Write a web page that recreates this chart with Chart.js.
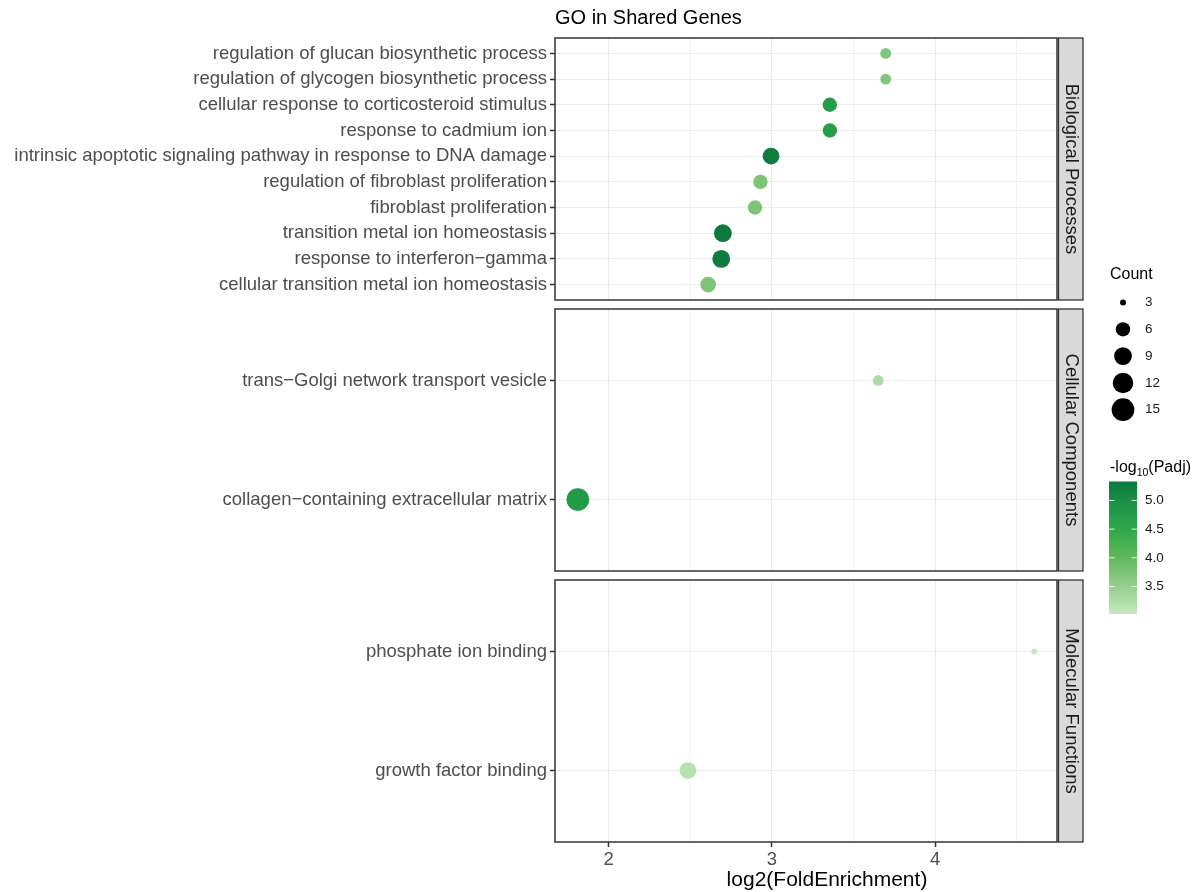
<!DOCTYPE html>
<html>
<head>
<meta charset="utf-8">
<title>GO in Shared Genes</title>
<script src="https://cdn.jsdelivr.net/npm/chart.js@4.4.1/dist/chart.umd.min.js"></script>
<style>
  html, body { margin: 0; padding: 0; background: #ffffff; }
  #wrap { position: relative; width: 1196px; height: 892px; }
  #wrap canvas { position: absolute; left: 0; top: 0; }
</style>
</head>
<body>
<div id="wrap">
  <canvas id="bp" width="1196" height="892"></canvas>
  <canvas id="cc" width="1196" height="892"></canvas>
  <canvas id="mf" width="1196" height="892"></canvas>
</div>
<script>
// ---- GO enrichment results, one group per facet ----
const bpTerms = [
  'regulation of glucan biosynthetic process',
  'regulation of glycogen biosynthetic process',
  'cellular response to corticosteroid stimulus',
  'response to cadmium ion',
  'intrinsic apoptotic signaling pathway in response to DNA damage',
  'regulation of fibroblast proliferation',
  'fibroblast proliferation',
  'transition metal ion homeostasis',
  'response to interferon\u2212gamma',
  'cellular transition metal ion homeostasis'
];
const bpFold  = [3.697, 3.697, 3.355, 3.355, 2.995, 2.930, 2.897, 2.700, 2.690, 2.610];
const bpCount = [4, 4, 6, 6, 8, 6, 6, 9, 9, 7];
const bpLogP  = [3.70, 3.70, 4.70, 4.70, 5.28, 3.74, 3.72, 5.33, 5.30, 3.72];

const ccTerms = [
  'trans\u2212Golgi network transport vesicle',
  'collagen\u2212containing extracellular matrix'
];
const ccFold  = [3.651, 1.812];
const ccCount = [4, 15];
const ccLogP  = [3.28, 4.78];

const mfTerms = ['phosphate ion binding', 'growth factor binding'];
const mfFold  = [4.606, 2.486];
const mfCount = [3, 8];
const mfLogP  = [3.02, 3.17];

const facetNames  = ['Biological Processes', 'Cellular Components', 'Molecular Functions'];
const xGridValues = [2, 2.5, 3, 3.5, 4, 4.5];
const sizeBreaks  = [3, 6, 9, 12, 15];
const colorBreaks = [3.5, 4.0, 4.5, 5.0];

// ---- shared scales ----
const FONT = "'Liberation Sans', Arial, Helvetica, sans-serif";
const W = 1196, H = 892;
const PANEL_LEFT = 555, PANEL_RIGHT = 1057;

const allFold  = bpFold.concat(ccFold, mfFold);
const allCount = bpCount.concat(ccCount, mfCount);
const allLogP  = bpLogP.concat(ccLogP, mfLogP);

const fMin = Math.min(...allFold), fMax = Math.max(...allFold);
const fPad = (fMax - fMin) * 0.05;
const xMin = fMin - fPad, xMax = fMax + fPad;

const cMin = Math.min(...allCount), cMax = Math.max(...allCount);
const pMin = Math.min(...allLogP),  pMax = Math.max(...allLogP);

// point diameter grows with the square root of the count (area scale)
function diameterOf(count) {
  const t = (count - cMin) / (cMax - cMin);
  return 6 + 16.7 * Math.sqrt(Math.max(0, t));
}

const gradStops = [
  [0.00, [199, 233, 192]],
  [0.22, [147, 205, 140]],
  [0.43, [ 96, 184,  91]],
  [0.64, [ 47, 168,  74]],
  [0.85, [ 26, 144,  71]],
  [1.00, [ 12, 122,  61]]
];
function colorAt(f) {
  f = Math.min(1, Math.max(0, f));
  for (let i = 1; i < gradStops.length; i++) {
    const [f1, c1] = gradStops[i];
    const [f0, c0] = gradStops[i - 1];
    if (f <= f1) {
      const u = (f - f0) / (f1 - f0);
      const c = c0.map((v, k) => Math.round(v + (c1[k] - v) * u));
      return `rgb(${c[0]},${c[1]},${c[2]})`;
    }
  }
  const c = gradStops[gradStops.length - 1][1];
  return `rgb(${c[0]},${c[1]},${c[2]})`;
}
function colorOf(v) { return colorAt((v - pMin) / (pMax - pMin)); }

// facet frame + grey strip on the right
function framePlugin(label) {
  return {
    id: 'frame',
    afterDraw(chart) {
      const { ctx, chartArea: a } = chart;
      ctx.save();
      const sx = a.right + 1.5, sw = 24.5;
      ctx.fillStyle = '#d9d9d9';
      ctx.fillRect(sx, a.top, sw, a.bottom - a.top);
      ctx.strokeStyle = '#333333';
      ctx.lineWidth = 1.3;
      ctx.strokeRect(sx, a.top, sw, a.bottom - a.top);
      ctx.translate(sx + sw / 2, (a.top + a.bottom) / 2);
      ctx.rotate(Math.PI / 2);
      ctx.fillStyle = '#1a1a1a';
      ctx.font = `18.5px ${FONT}`;
      ctx.textAlign = 'center';
      ctx.textBaseline = 'middle';
      ctx.fillText(label, 0, 0);
      ctx.restore();
      // panel border
      ctx.save();
      ctx.strokeStyle = '#333333';
      ctx.lineWidth = 1.5;
      ctx.strokeRect(a.left, a.top, a.right - a.left, a.bottom - a.top);
      ctx.restore();
    }
  };
}

const titlePlugin = {
  id: 'plotTitle',
  afterDraw(chart) {
    const ctx = chart.ctx;
    ctx.save();
    ctx.fillStyle = '#000000';
    ctx.font = `20px ${FONT}`;
    ctx.textAlign = 'left';
    ctx.textBaseline = 'middle';
    ctx.fillText('GO in Shared Genes', PANEL_LEFT, 18);
    ctx.restore();
  }
};

const xTitlePlugin = {
  id: 'xTitle',
  afterDraw(chart) {
    const ctx = chart.ctx;
    ctx.save();
    ctx.fillStyle = '#000000';
    ctx.font = `21px ${FONT}`;
    ctx.textAlign = 'center';
    ctx.textBaseline = 'middle';
    ctx.fillText('log2(FoldEnrichment)', 827, 880);
    ctx.restore();
  }
};

const legendPlugin = {
  id: 'guides',
  afterDraw(chart) {
    const ctx = chart.ctx;
    ctx.save();
    ctx.textBaseline = 'middle';
    ctx.textAlign = 'left';

    // size guide
    ctx.fillStyle = '#000000';
    ctx.font = `16px ${FONT}`;
    ctx.fillText('Count', 1110, 275);
    sizeBreaks.forEach((b, i) => {
      const y = 302.5 + i * 26.8;
      ctx.fillStyle = '#000000';
      ctx.beginPath();
      ctx.arc(1123, y, diameterOf(b) / 2, 0, Math.PI * 2);
      ctx.fill();
      ctx.fillStyle = '#1a1a1a';
      ctx.font = `13.5px ${FONT}`;
      ctx.fillText(String(b), 1145, y);
    });

    // colour guide title: -log10(Padj)
    let tx = 1110;
    const ty = 468;
    ctx.fillStyle = '#000000';
    ctx.font = `16px ${FONT}`;
    ctx.fillText('-log', tx, ty);
    tx += ctx.measureText('-log').width;
    ctx.font = `10.5px ${FONT}`;
    ctx.fillText('10', tx, ty + 5);
    tx += ctx.measureText('10').width;
    ctx.font = `16px ${FONT}`;
    ctx.fillText('(Padj)', tx, ty);

    // colour bar
    const bx = 1109, bw = 28, top = 481.5, bottom = 614;
    const g = ctx.createLinearGradient(0, bottom, 0, top);
    for (let k = 0; k <= 40; k++) g.addColorStop(k / 40, colorAt(k / 40));
    ctx.fillStyle = g;
    ctx.fillRect(bx, top, bw, bottom - top);
    colorBreaks.forEach(b => {
      const y = bottom - (b - pMin) / (pMax - pMin) * (bottom - top);
      ctx.strokeStyle = 'rgba(255,255,255,0.85)';
      ctx.lineWidth = 1;
      ctx.beginPath();
      ctx.moveTo(bx, y); ctx.lineTo(bx + 5.5, y);
      ctx.moveTo(bx + bw - 5.5, y); ctx.lineTo(bx + bw, y);
      ctx.stroke();
      ctx.fillStyle = '#1a1a1a';
      ctx.font = `13.5px ${FONT}`;
      ctx.fillText(b.toFixed(1), 1145, y);
    });
    ctx.restore();
  }
};

function makePanel(id, terms, fold, count, logp, top, bottom, label, showX, extra) {
  const n = terms.length;
  return new Chart(document.getElementById(id), {
    type: 'bubble',
    data: {
      datasets: [{
        data: fold.map((x, i) => ({ x: x, y: i, r: diameterOf(count[i]) / 2 })),
        backgroundColor: logp.map(colorOf),
        borderWidth: 0,
        hoverBorderWidth: 0,
        hoverRadius: 0
      }]
    },
    options: {
      responsive: false,
      maintainAspectRatio: false,
      animation: false,
      devicePixelRatio: 1,
      events: [],
      layout: {
        padding: { left: 0, right: W - PANEL_RIGHT, top: top, bottom: showX ? 0 : H - bottom }
      },
      plugins: { legend: { display: false }, tooltip: { enabled: false } },
      scales: {
        x: {
          type: 'linear',
          min: xMin,
          max: xMax,
          afterBuildTicks: s => { s.ticks = xGridValues.map(v => ({ value: v })); },
          afterFit: s => { s.height = showX ? H - bottom : 0; },
          border: { display: false },
          grid: {
            color: c => Number.isInteger(c.tick.value) ? '#ebebeb' : '#f2f2f2',
            lineWidth: 1,
            drawTicks: showX,
            tickLength: 5,
            tickWidth: 1.5,
            tickColor: c => Number.isInteger(c.tick.value) ? '#333333' : 'rgba(0,0,0,0)'
          },
          ticks: {
            display: showX,
            autoSkip: false,
            maxRotation: 0,
            padding: 2,
            color: '#4d4d4d',
            font: { family: FONT, size: 18.5 },
            callback: v => Number.isInteger(v) ? String(v) : ''
          }
        },
        y: {
          type: 'linear',
          reverse: true,
          min: -0.6,
          max: n - 0.4,
          afterBuildTicks: s => { s.ticks = terms.map((_, i) => ({ value: i })); },
          afterFit: s => { s.width = PANEL_LEFT; },
          border: { display: false },
          grid: {
            color: '#ebebeb',
            lineWidth: 1,
            tickLength: 5,
            tickWidth: 1.5,
            tickColor: '#333333'
          },
          ticks: {
            autoSkip: false,
            padding: 3,
            color: '#4d4d4d',
            font: { family: FONT, size: 18.5 },
            callback: v => terms[v]
          }
        }
      }
    },
    plugins: [framePlugin(label)].concat(extra)
  });
}

makePanel('bp', bpTerms, bpFold, bpCount, bpLogP, 38, 300, facetNames[0], false, [titlePlugin]);
makePanel('cc', ccTerms, ccFold, ccCount, ccLogP, 309, 571, facetNames[1], false, []);
makePanel('mf', mfTerms, mfFold, mfCount, mfLogP, 580, 842, facetNames[2], true, [xTitlePlugin, legendPlugin]);
</script>
</body>
</html>
